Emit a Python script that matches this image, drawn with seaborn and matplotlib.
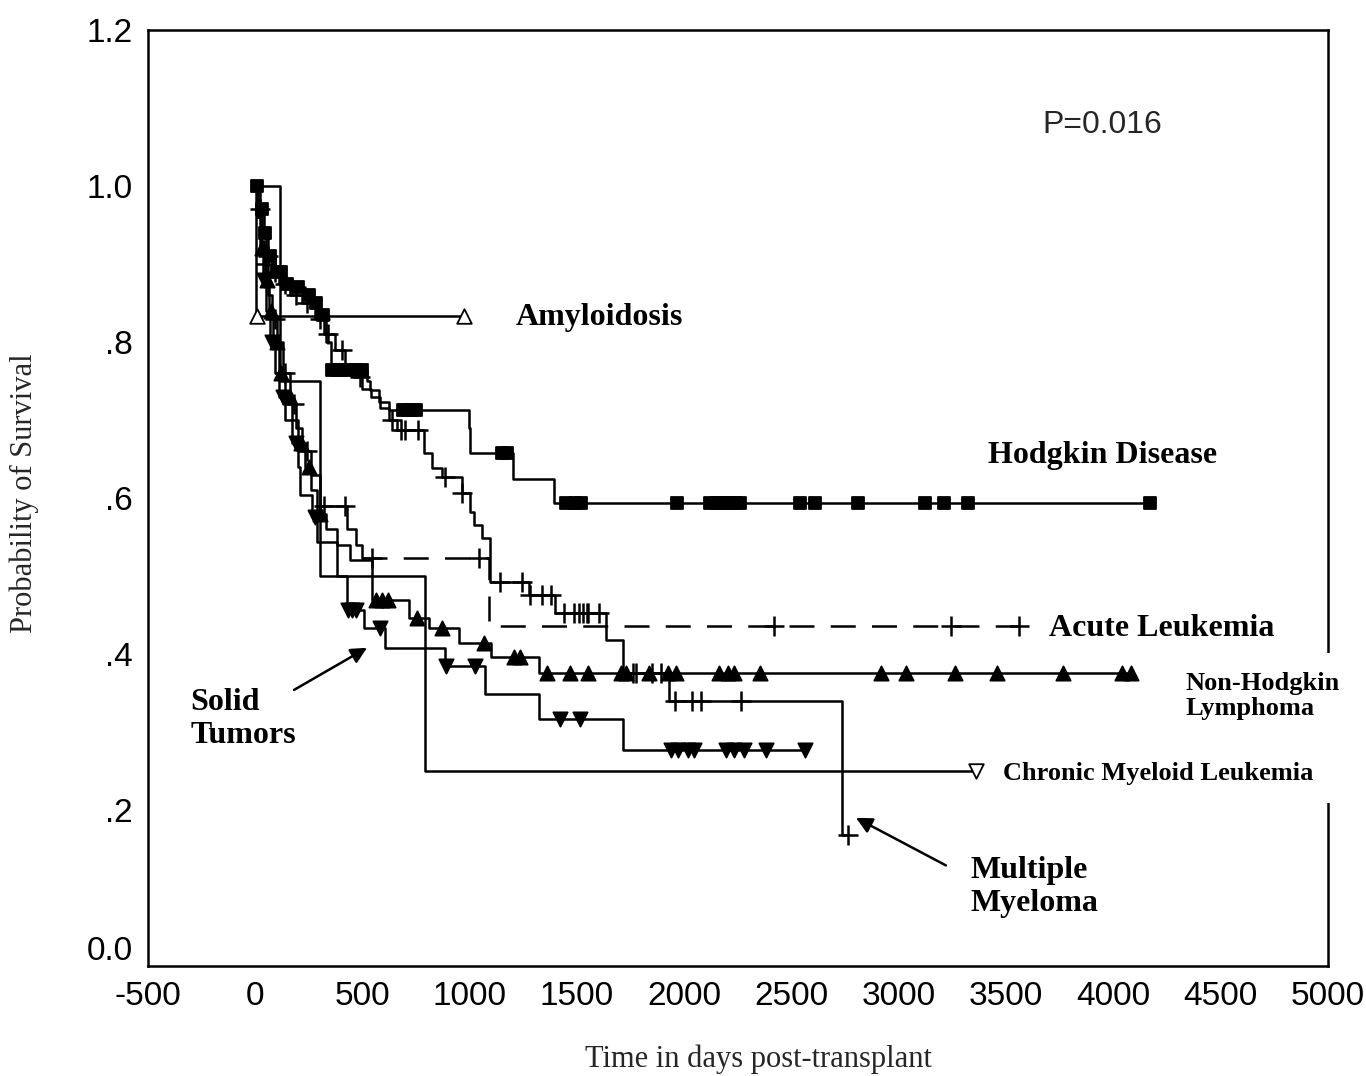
import numpy as np
import matplotlib
matplotlib.use("Agg")
import matplotlib.pyplot as plt
import matplotlib.transforms as mtrans
from matplotlib.patches import Rectangle
import seaborn as sns

# survival steps (time of event, survival after it) and censor times per group
hd_t = [0, 20, 40, 60, 90, 130, 180, 230, 270, 300, 330, 352, 521, 535, 577, 623, 995, 1000, 1200, 1391]
hd_s = [1.0, 0.97, 0.94, 0.91, 0.89, 0.875, 0.87, 0.86, 0.85, 0.835, 0.80, 0.764, 0.75, 0.738, 0.723, 0.713, 0.69, 0.658, 0.624, 0.593]
hd_c = [10, 30, 45, 70, 100, 120, 150, 200, 250, 285, 315, 360, 380, 400, 440, 470, 500, 690, 710, 730, 750,
        1150, 1175, 1450, 1490, 1520, 1967, 2120, 2150, 2180, 2210, 2240, 2260, 2540, 2609, 2809, 3121,
        3209, 3321, 4172]

mm_t = [0, 15, 30, 50, 80, 110, 160, 220, 280, 320, 370, 420, 460, 500, 540, 580, 623, 660,
        786, 823, 870, 963, 1000, 1019, 1056, 1093, 1274, 1395, 1637, 1716, 1930, 2735]
mm_s = [1.0, 0.97, 0.94, 0.91, 0.89, 0.875, 0.86, 0.85, 0.83, 0.81, 0.79, 0.77, 0.755, 0.74, 0.73, 0.715, 0.70, 0.687,
        0.658, 0.638, 0.627, 0.606, 0.582, 0.565, 0.549, 0.492, 0.476, 0.452, 0.418, 0.376, 0.34, 0.168]
mm_c = [20, 60, 90, 140, 190, 240, 300, 340, 405, 488, 637, 680, 700, 760, 884, 963, 1140, 1242, 1280, 1335,
        1380, 1437, 1488, 1507, 1526, 1544, 1553, 1600, 1763, 1777, 1847, 1893, 1958, 2037, 2079, 2265, 2763]

al_t = [0, 10, 25, 40, 60, 80, 100, 130, 160, 190, 220, 260, 300, 430, 470, 500, 1088]
al_s = [1.0, 0.97, 0.93, 0.90, 0.86, 0.83, 0.80, 0.76, 0.72, 0.69, 0.66, 0.63, 0.59, 0.56, 0.54, 0.523, 0.436]
al_c = [50, 90, 140, 180, 240, 321, 419, 544, 1042, 2419, 3242, 3558]

nhl_t = [0, 10, 25, 45, 65, 85, 110, 140, 170, 200, 230, 260, 290, 330, 380, 440, 544, 716, 809, 949, 1098, 1321]
nhl_s = [1.0, 0.96, 0.92, 0.88, 0.84, 0.80, 0.76, 0.73, 0.70, 0.67, 0.64, 0.61, 0.58, 0.56, 0.54, 0.52, 0.469,
         0.446, 0.433, 0.414, 0.396, 0.376]
nhl_c = [30, 55, 75, 100, 120, 160, 215, 250, 300, 565, 590, 620, 753, 870, 1065, 1205, 1233, 1358, 1465, 1553,
         1707, 1730, 1833, 1926, 1963, 2163, 2205, 2233, 2353, 2916, 3033, 3260, 3456, 3767, 4042, 4084]

st_t = [0, 10, 20, 35, 50, 70, 90, 110, 140, 170, 200, 209, 266, 290, 381, 428, 507, 605, 884, 1070, 1321, 1716]
st_s = [1.0, 0.96, 0.92, 0.88, 0.84, 0.80, 0.76, 0.73, 0.70, 0.67, 0.64, 0.604, 0.576, 0.543, 0.50, 0.456,
        0.433, 0.408, 0.385, 0.349, 0.317, 0.277]
st_c = [40, 80, 130, 190, 279, 432, 450, 470, 581, 890, 1023, 1419, 1512, 1940, 1972, 2019, 2047, 2195, 2233,
        2279, 2381, 2563]

cml_t = [0, 116, 302, 791]
cml_s = [1.0, 0.75, 0.50, 0.25]
cml_c = [3358]

amy_t = [0, 4]
amy_s = [1.0, 0.833]
amy_c = [6, 975]

xticks = [-500, 0, 500, 1000, 1500, 2000, 2500, 3000, 3500, 4000, 4500, 5000]
yticks = [0.0, 0.2, 0.4, 0.6, 0.8, 1.0, 1.2]
ytick_labels = ["0.0", ".2", ".4", ".6", ".8", "1.0", "1.2"]


def surv_at(times, surv, t):
    idx = np.searchsorted(times, t, side="right") - 1
    return np.asarray(surv)[idx]


sns.set_style("white")
plt.rcParams["font.family"] = ["Liberation Sans", "DejaVu Sans"]

fig = plt.figure(figsize=(13.66, 10.76), dpi=100)
ax = fig.add_axes([0.1083, 0.1022, 0.8639, 0.8699])

LW = 1.8


def draw_curve(times, surv, cens, marker, size, face="black", ls="-", split=None):
    xs = list(times) + [max(cens)]
    ys = list(surv) + [surv[-1]]
    if split is None:
        sns.lineplot(x=xs, y=ys, drawstyle="steps-post", color="black", lw=LW,
                     linestyle=ls, estimator=None, sort=False, ax=ax)
    else:
        xs = np.array(xs)
        ys = np.array(ys)
        a = xs <= split
        sns.lineplot(x=xs[a], y=ys[a], drawstyle="steps-post", color="black", lw=LW,
                     estimator=None, sort=False, ax=ax)
        b = xs >= split
        sns.lineplot(x=xs[b], y=ys[b], drawstyle="steps-post", color="black", lw=LW,
                     linestyle=ls, estimator=None, sort=False, ax=ax)
    cy = surv_at(times, surv, cens)
    if marker == "+":
        sns.scatterplot(x=cens, y=cy, marker="+", s=size, color="black", linewidth=1.8,
                        zorder=4, ax=ax)
    else:
        sns.scatterplot(x=cens, y=cy, marker=marker, s=size, facecolor=face,
                        edgecolor="black", linewidth=1.3, zorder=4, ax=ax)


draw_curve(hd_t, hd_s, hd_c, "s", 80)
draw_curve(mm_t, mm_s, mm_c, "+", 210)
draw_curve(al_t, al_s, al_c, "+", 210, ls=(0, (10, 6.5)), split=500)
draw_curve(nhl_t, nhl_s, nhl_c, "^", 105)
draw_curve(st_t, st_s, st_c, "v", 105)
draw_curve(cml_t, cml_s, cml_c, "v", 110, face="white")
draw_curve(amy_t, amy_s, amy_c, "^", 110, face="white")

ax.set_xlim(-500, 5000)
ax.set_ylim(0, 1.2)
ax.set_xticks(xticks)
ax.set_xticklabels([str(v) for v in xticks])
ax.set_yticks(yticks)
ax.set_yticklabels(ytick_labels)
ax.tick_params(axis="both", direction="out", length=5, width=1.5, labelsize=24, pad=6,
               colors="black")
for sp in ax.spines.values():
    sp.set_linewidth(1.8)
    sp.set_color("black")
    sp.set_visible(True)

# lift the 0.0 label a little, as in the original
lab0 = ax.get_yticklabels()[0]
lab0.set_transform(lab0.get_transform() + mtrans.ScaledTranslation(0, 0.18, fig.dpi_scale_trans))

serif = ["Liberation Serif", "DejaVu Serif"]
ax.set_xlabel("Time in days post-transplant", fontsize=22, family=serif)
ax.set_ylabel("Probability of Survival", fontsize=22, family=serif)
ax.xaxis.set_label_coords(0.517, -0.084)
ax.yaxis.set_label_coords(-0.092, 0.505)

bold = dict(family=serif, fontweight="bold", color="black")
ax.text(3670, 1.078, "P=0.016", fontsize=23, va="center", ha="left")
ax.text(1214, 0.831, "Amyloidosis", fontsize=23, va="center", **bold)
ax.text(3414, 0.655, "Hodgkin Disease", fontsize=23, va="center", **bold)
ax.text(3698, 0.433, "Acute Leukemia", fontsize=23, va="center", **bold)
ax.text(4335, 0.346, "Non-Hodgkin\nLymphoma", fontsize=19, va="center", linespacing=1.15,
        zorder=6, clip_on=False, **bold)
ax.text(3484, 0.247, "Chronic Myeloid Leukemia", fontsize=19, va="center", zorder=6, **bold)
ax.text(-302, 0.317, "Solid\nTumors", fontsize=23, va="center", linespacing=1.2, **bold)
ax.text(3335, 0.101, "Multiple\nMyeloma", fontsize=23, va="center", linespacing=1.2, **bold)

# gap in the right frame behind the labels
ax.add_patch(Rectangle((0.985, 0.174), 0.03, 0.16, transform=ax.transAxes, facecolor="white",
                       edgecolor="none", clip_on=False, zorder=2.6))

arrow = dict(arrowstyle="-|>", color="black", lw=1.8, mutation_scale=24, shrinkA=0, shrinkB=0)
ax.annotate("", xy=(521, 0.408), xytext=(181, 0.354), arrowprops=arrow)
ax.annotate("", xy=(2800, 0.190), xytext=(3219, 0.129), arrowprops=arrow)

fig.savefig("out.png", dpi=100)
